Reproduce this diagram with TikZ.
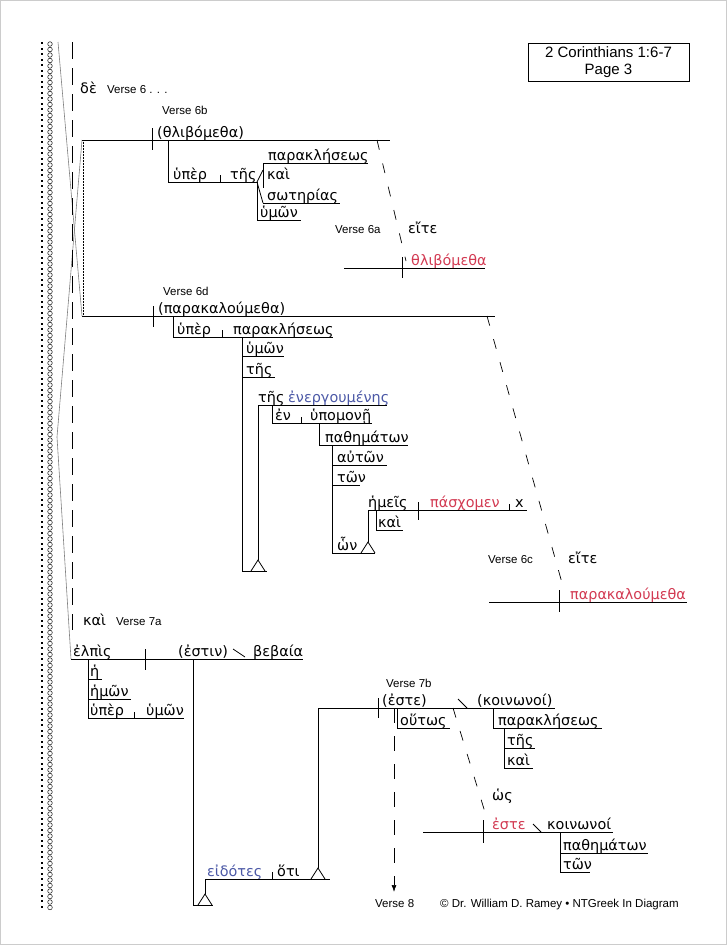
\documentclass[tikz,border=0pt]{standalone}
\usepackage{fontspec}
\usepackage{tikz}
\usetikzlibrary{arrows.meta}
\newfontfamily\greekfam{DejaVu Sans}
\newfontfamily\labelfam{Liberation Sans}
\definecolor{verbred}{HTML}{D23A52}
\definecolor{partblue}{HTML}{4B58A6}
\newcommand{\gkfont}{\greekfam\fontsize{14.4}{16}\selectfont}
\newcommand{\vsfont}{\labelfam\fontsize{11.5}{13}\selectfont}
\newcommand{\pedestal}[2]{\draw[base] ({#1-7},#2) -- (#1,{#2-11}) -- ({#1+7},#2);}
\tikzset{
  gk/.style={font=\gkfont, anchor=base west, inner sep=0pt},
  vs/.style={font=\vsfont, anchor=base west, inner sep=0pt},
  base/.style={line width=0.8pt},
  slant/.style={line width=0.7pt, dash pattern=on 10pt off 14pt},
}

\begin{document}
\begin{tikzpicture}[x=1pt,y=-1pt]
  \useasboundingbox (0,0) rectangle (727,945);
  \draw[gray!40] (0.5,0.5) rectangle (726.5,944.5);
  % margin
  \foreach \k in {0,...,157} {
    \fill (41,{42+5.5*\k}) rectangle ++(2.4,2.4);
    \draw[line width=0.45pt] (50,{44+5.5*\k}) circle (2.3pt);
  }
  \draw[gray, line width=0.6pt] (58,42) -- (82,316);
  \draw[gray, line width=0.6pt] (82,140) -- (57,437) -- (71,659);
  \draw[line width=0.7pt, dash pattern=on 17pt off 9pt] (72,42) -- (72,630);
  \draw[line width=0.5pt, densely dotted] (83,140) -- (83,316);

  % title
  \draw[base] (528,43) rectangle (689,81);
  \node[font=\labelfam\fontsize{15}{17}\selectfont, anchor=base, inner sep=0pt] (ref) at (608.5,57) {2 Corinthians 1:6-7};
  \node[font=\labelfam\fontsize{15}{17}\selectfont, anchor=base, inner sep=0pt] (page) at (608.5,74) {Page 3};

  \node[gk] (de) at (80,93) {δὲ};
  \node[vs] (v6) at (107,93) {Verse 6 . . .};

  % verse 6b
  \node[vs] (v6b) at (162,114) {Verse 6b};
  \draw[base] (82,140) -- (390,140);
  \draw[base] (152,128) -- (152,150);
  \node[gk] (thlib) at (157,137) {(θλιβόμεθα)};
  \draw[base] (168,140) -- (168,182) -- (257,182);
  \node[gk] (hyperA) at (173,179) {ὑπὲρ};
  \draw[base] (220,175) -- (220,182);
  \node[gk] (tesA) at (230,179) {τῆς};
  \draw[base] (257,182) -- (263,170);
  \draw[base] (263,163) -- (263,188);
  \draw[base] (257,182) -- (263,203);
  \draw[base] (263,163) -- (368,163);
  \draw[base] (263,203) -- (340,203);
  \node[gk] (paraklA) at (268,160) {παρακλήσεως};
  \node[gk] (kaiA) at (267,179) {καὶ};
  \node[gk] (soter) at (267,200) {σωτηρίας};
  \draw[base] (257,182) -- (257,220) -- (301,220);
  \node[gk] (hymonA) at (260,217) {ὑμῶν};

  % verse 6a
  \draw[slant] (377,140) -- (406,261);
  \node[vs] (v6a) at (335,233) {Verse 6a};
  \node[gk] (eiteA) at (408,233) {εἴτε};
  \draw[base] (344,268) -- (485,268);
  \draw[base] (402,257) -- (402,278);
  \node[gk, text=verbred] (thlibB) at (411,265) {θλιβόμεθα};

  % verse 6d
  \node[vs] (v6d) at (163,295) {Verse 6d};
  \draw[base] (82,316) -- (495,316);
  \draw[base] (153,306) -- (153,327);
  \node[gk] (parakal) at (158,313) {(παρακαλούμεθα)};
  \draw[base] (173,316) -- (173,337) -- (333,337);
  \node[gk] (hyperB) at (177,334) {ὑπὲρ};
  \draw[base] (222,330) -- (222,337);
  \node[gk] (paraklB) at (233,334) {παρακλήσεως};
  \draw[base] (242,337) -- (242,571) -- (267,571);
  \pedestal{258}{571}
  \draw[base] (242,356) -- (284,356);
  \node[gk] (hymonB) at (246,353) {ὑμῶν};
  \draw[base] (242,377) -- (275,377);
  \node[gk] (tesB) at (246,374) {τῆς};
  \draw[base] (258,560) -- (258,405) -- (387,405);
  \node[gk] (tesC) at (258,402) {τῆς};
  \node[gk, text=partblue] (energ) at (288,402) {ἐνεργουμένης};
  \draw[base] (272,405) -- (272,423) -- (372,423);
  \node[gk] (en) at (275,420) {ἐν};
  \draw[base] (301,417) -- (301,423);
  \node[gk] (hypom) at (310,420) {ὑπομονῇ};
  \draw[base] (319,423) -- (319,445) -- (408,445);
  \node[gk] (pathA) at (325,442) {παθημάτων};
  \draw[base] (332,445) -- (332,553) -- (375,553);
  \draw[base] (332,465) -- (387,465);
  \node[gk] (auton) at (337,462) {αὐτῶν};
  \draw[base] (332,485) -- (360,485);
  \node[gk] (tonA) at (337,482) {τῶν};
  \node[gk] (hon) at (337,550) {ὧν};
  \pedestal{368}{553}
  \draw[base] (368,542) -- (368,510) -- (527,510);
  \node[gk] (hemeis) at (368,507) {ἡμεῖς};
  \draw[base] (418,502) -- (418,520);
  \node[gk, text=verbred] (pasch) at (430,507) {πάσχομεν};
  \draw[base] (509,504) -- (509,510);
  \node[gk] (obj) at (515,507) {x};
  \draw[base] (376,510) -- (376,530) -- (403,530);
  \node[gk] (kaiB) at (378,527) {καὶ};

  % verse 6c
  \draw[slant] (487,316) -- (564,590);
  \node[vs] (v6c) at (488,563) {Verse 6c};
  \node[gk] (eiteB) at (568,563) {εἴτε};
  \draw[base] (489,602) -- (687,602);
  \draw[base] (559,590) -- (559,612);
  \node[gk, text=verbred] (parakalB) at (570,599) {παρακαλούμεθα};

  % verse 7a
  \node[gk] (kaiC) at (83,625) {καὶ};
  \node[vs] (v7a) at (116,625) {Verse 7a};
  \draw[base] (71,659) -- (303,659);
  \draw[base] (145,649) -- (145,670);
  \node[gk] (elpis) at (73,656) {ἐλπὶς};
  \node[gk] (estin) at (178,656) {(ἐστιν)};
  \draw[base] (233,649) -- (245,657);
  \node[gk] (bebaia) at (253,656) {βεβαία};
  \draw[base] (88,659) -- (88,718) -- (184,718);
  \draw[base] (88,679) -- (102,679);
  \node[gk] (he) at (90,676) {ἡ};
  \draw[base] (88,699) -- (131,699);
  \node[gk] (hemon) at (90,696) {ἡμῶν};
  \node[gk] (hyperC) at (90,715) {ὑπὲρ};
  \draw[base] (134,712) -- (134,718);
  \node[gk] (hymonC) at (146,715) {ὑμῶν};
  \draw[base] (193,659) -- (193,905) -- (213,905);
  \pedestal{205}{905}
  \draw[base] (205,894) -- (205,879) -- (330,879);
  \node[gk, text=partblue] (eidotes) at (207,876) {εἰδότες};
  \draw[base] (272,872) -- (272,879);
  \node[gk] (hoti) at (277,876) {ὅτι};
  \pedestal{318}{879}

  % verse 7b
  \node[vs] (v7b) at (386,687) {Verse 7b};
  \draw[base] (318,868) -- (318,708) -- (555,708);
  \draw[base] (378,698) -- (378,718);
  \node[gk] (este) at (382,705) {(ἐστε)};
  \draw[base] (458,699) -- (467,708);
  \node[gk] (koinon) at (477,705) {(κοινωνοί)};
  \draw[base] (397,708) -- (397,728) -- (450,728);
  \node[gk] (houtos) at (400,725) {οὕτως};
  \draw[line width=0.7pt, dash pattern=on 15pt off 13pt, -{Latex[length=7pt,width=5pt]}] (394,708) -- (394,892);
  \node[vs] (v8) at (375,907) {Verse 8};
  \node[vs] (copy) at (440,907) {© Dr. William D. Ramey • NTGreek In Diagram};
  \draw[base] (493,708) -- (493,728) -- (602,728);
  \node[gk] (paraklC) at (498,725) {παρακλήσεως};
  \draw[base] (504,728) -- (504,768) -- (533,768);
  \draw[base] (504,748) -- (535,748);
  \node[gk] (tesD) at (507,745) {τῆς};
  \node[gk] (kaiD) at (507,765) {καὶ};

  \draw[slant] (453,708) -- (488,822);
  \node[gk] (hos) at (492,800) {ὡς};
  \draw[base] (423,832) -- (613,832);
  \draw[base] (483,820) -- (483,843);
  \node[gk, text=verbred] (esteB) at (492,829) {ἐστε};
  \draw[base] (533,824) -- (541,832);
  \node[gk] (koinonB) at (547,829) {κοινωνοί};
  \draw[base] (560,832) -- (560,872) -- (590,872);
  \draw[base] (560,853) -- (648,853);
  \node[gk] (pathB) at (563,850) {παθημάτων};
  \node[gk] (tonB) at (563,869) {τῶν};
\end{tikzpicture}
\end{document}
